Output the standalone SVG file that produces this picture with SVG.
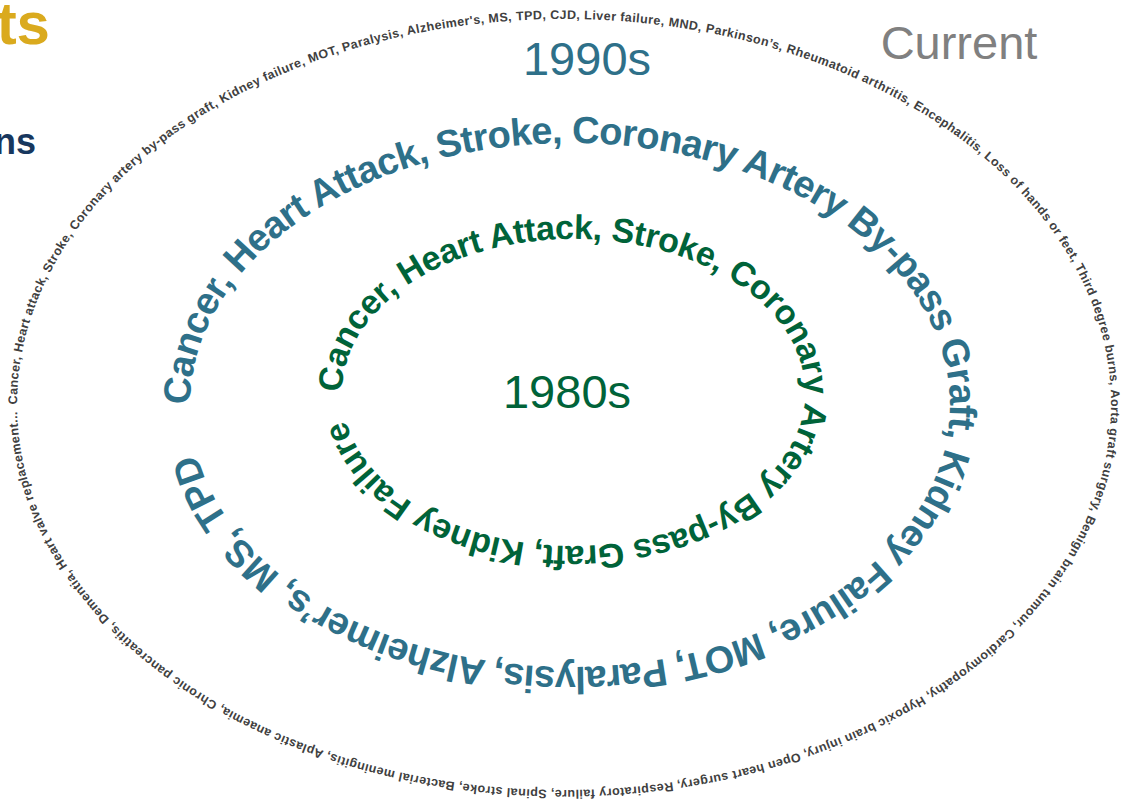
<svg xmlns="http://www.w3.org/2000/svg" xmlns:xlink="http://www.w3.org/1999/xlink" width="1124" height="811" viewBox="0 0 1124 811">
  <style>
    .ring { font-family: "Liberation Sans", Arial, sans-serif; font-weight: bold; }
    .era { font-family: "Liberation Sans", Arial, sans-serif; font-size: 47px; text-anchor: middle; }
    .outer { font-size: 12.5px; fill: #404040; }
    .mid { font-size: 38px; fill: #2E7089; }
    .inner { font-size: 34px; fill: #006339; }
  </style>
  <defs>
    <!-- clockwise ellipses starting at their leftmost point -->
    <path id="pathOuter" d="M17,404.5 A547,385.5 0 1 1 1111,404.5 A547,385.5 0 1 1 17,404.5"/>
    <path id="pathMid" d="M190,405 A380,262 0 1 1 950,405 A380,262 0 1 1 190,405"/>
    <path id="pathInner" d="M342,392.5 A231.5,153.5 0 1 1 805,392.5 A231.5,153.5 0 1 1 342,392.5"/>
  </defs>

  <!-- headings clipped by the left edge -->
  <g id="heading-top">
    <text x="50" y="44" font-family="Liberation Sans, Arial, sans-serif" font-weight="bold" font-size="60" fill="#DAAA1E" text-anchor="end">ts</text>
  </g>
  <g id="heading-sub">
    <text x="36" y="154" font-family="Liberation Sans, Arial, sans-serif" font-weight="bold" font-size="36" fill="#17375E" text-anchor="end">ns</text>
  </g>

  <g id="ring-current">
    <text class="ring outer"><textPath xlink:href="#pathOuter" href="#pathOuter" textLength="2944" lengthAdjust="spacing">Cancer, Heart attack, Stroke, Coronary artery by-pass graft, Kidney failure, MOT, Paralysis, Alzheimer's, MS, TPD, CJD, Liver failure, MND, Parkinson’s, Rheumatoid arthritis, Encephalitis, Loss of hands or feet, Third degree burns, Aorta graft surgery, Benign brain tumour, Cardiomyopathy, Hypoxic brain injury, Open heart surgery, Respiratory failure, Spinal stroke, Bacterial meningitis, Aplastic anaemia, Chronic pancreatitis, Dementia, Heart valve replacement...</textPath></text>
  </g>

  <g id="ring-1990s">
    <text class="ring mid"><textPath xlink:href="#pathMid" href="#pathMid" textLength="1984" lengthAdjust="spacing">Cancer, Heart Attack, Stroke, Coronary Artery By-pass Graft, Kidney Failure, MOT, Paralysis, Alzheimer’s, MS, TPD</textPath></text>
  </g>

  <g id="ring-1980s">
    <text class="ring inner"><textPath xlink:href="#pathInner" href="#pathInner" textLength="1194" lengthAdjust="spacing">Cancer, Heart Attack, Stroke, Coronary Artery By-pass Graft, Kidney Failure</textPath></text>
  </g>

  <g id="label-current">
    <text class="era" x="959" y="59" fill="#808080">Current</text>
  </g>
  <g id="label-1990s">
    <text class="era" x="587" y="75" fill="#2E7089">1990s</text>
  </g>
  <g id="label-1980s">
    <text class="era" x="567" y="408" fill="#006339">1980s</text>
  </g>
</svg>
